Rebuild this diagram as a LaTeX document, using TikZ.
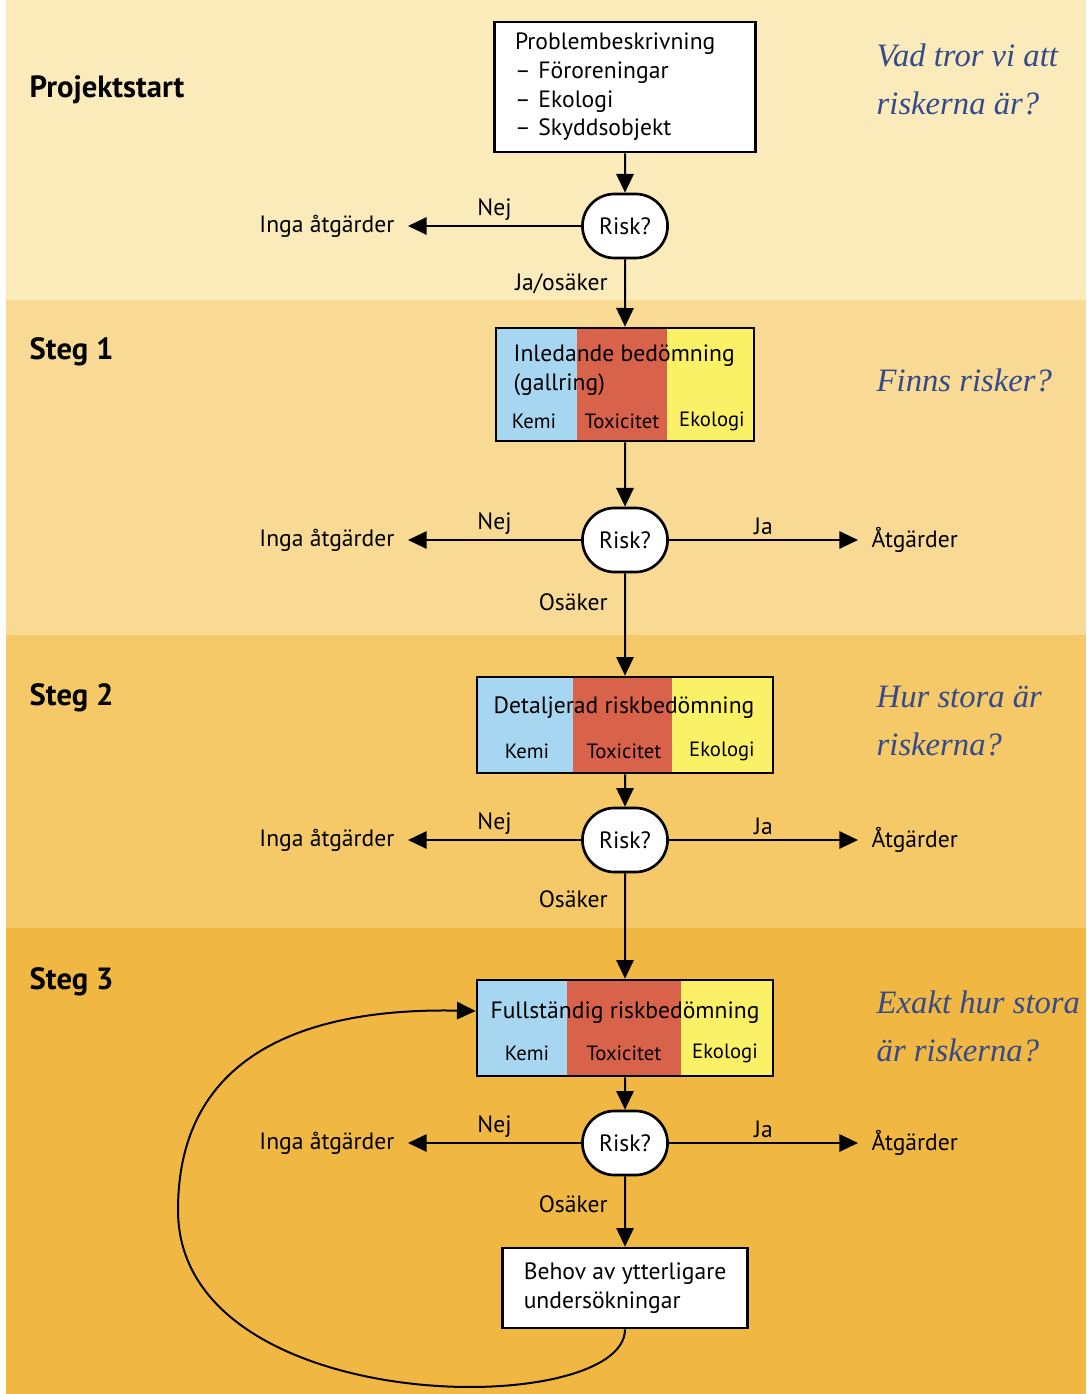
\documentclass[tikz,border=0pt]{standalone}
\usepackage{fontspec}
\setmainfont{PT Sans}
\newfontfamily\handfont{Liberation Serif}
\usetikzlibrary{arrows.meta, shapes.misc}

\definecolor{bandA}{RGB}{251,235,187}
\definecolor{bandB}{RGB}{248,218,149}
\definecolor{bandC}{RGB}{245,200,104}
\definecolor{bandD}{RGB}{240,184,66}
\definecolor{kemiblue}{RGB}{166,214,240}
\definecolor{toxred}{RGB}{216,98,74}
\definecolor{ekoyellow}{RGB}{250,241,102}
\definecolor{handblue}{RGB}{52,74,140}

\tikzset{
  flow/.style={line width=1.5pt, -{Triangle[length=14pt,width=13pt]}},
  txt/.style={font=\fontsize{17.7}{21.5}\selectfont},
  subtxt/.style={font=\fontsize{15.5}{18}\selectfont},
  head/.style={font=\bfseries\fontsize{23}{26}\selectfont, anchor=west},
  hand/.style={font=\handfont\itshape\fontsize{24.5}{36}\selectfont, text=handblue, anchor=west, align=left},
  riskbox/.style={draw, fill=white, rounded rectangle, line width=2pt, minimum width=70.5pt, minimum height=48pt, txt},
  framebox/.style={draw, line width=2pt, inner sep=0pt},
  whitebox/.style={draw, fill=white, line width=2pt, txt, align=left},
  sidelabel/.style={left, xshift=-9pt, txt}
}

\begin{document}
\begin{tikzpicture}[x=0.75pt, y=-0.75pt]
  \useasboundingbox (0,0) rectangle (1086,1394);
  % background bands
  \fill[white] (0,0) rectangle (1086,1394);
  \fill[bandA] (6,0) rectangle (1086,300);
  \fill[bandB] (6,300) rectangle (1086,635);
  \fill[bandC] (6,635) rectangle (1086,928);
  \fill[bandD] (6,928) rectangle (1086,1394);

  % stage headings
  \node[head] (hstart) at (25,90) {Projektstart};
  \node[head] (hsteg1) at (25,352) {Steg 1};
  \node[head] (hsteg2) at (25,698) {Steg 2};
  \node[head] (hsteg3) at (25,982) {Steg 3};

  % questions on the right
  \node[hand] (q0) at (872,79) {Vad tror vi att\\riskerna är?};
  \node[hand] (q1) at (872,380) {Finns risker?};
  \node[hand] (q2) at (872,721) {Hur stora är\\riskerna?};
  \node[hand] (q3) at (872,1026) {Exakt hur stora\\är riskerna?};

  % project start
  \node[whitebox, minimum height=97.5pt, text width=165pt, inner xsep=15.3pt] (prob) at (625,87)
    {Problembeskrivning\\– Föroreningar\\– Ekologi\\– Skyddsobjekt};
  \node[riskbox] (r0) at (625,226) {Risk?};

  % step 1
  \fill[kemiblue] (497,328) rectangle (577,441);
  \fill[toxred] (577,328) rectangle (667,441);
  \fill[ekoyellow] (667,328) rectangle (755,441);
  \node[framebox, minimum width=193.5pt, minimum height=84.75pt] (b1) at (625,384.5) {};
  \node[txt, anchor=west, align=left] (t1) at (509,370) {Inledande bedömning\\(gallring)};
  \node[subtxt] (k1) at (534,421) {Kemi};
  \node[subtxt] (x1) at (622,421) {Toxicitet};
  \node[subtxt] (e1) at (712,421) {Ekologi};
  \node[riskbox] (r1) at (625,540) {Risk?};

  % step 2
  \fill[kemiblue] (476,677) rectangle (573,773);
  \fill[toxred] (573,677) rectangle (672,773);
  \fill[ekoyellow] (672,677) rectangle (772,773);
  \node[framebox, minimum width=222pt, minimum height=72pt] (b2) at (625,725) {};
  \node[txt] (t2) at (624,708) {Detaljerad riskbedömning};
  \node[subtxt] (k2) at (527,751) {Kemi};
  \node[subtxt] (x2) at (624,751) {Toxicitet};
  \node[subtxt] (e2) at (722,751) {Ekologi};
  \node[riskbox] (r2) at (625,840) {Risk?};

  % step 3
  \fill[kemiblue] (477,980) rectangle (567,1076);
  \fill[toxred] (567,980) rectangle (681,1076);
  \fill[ekoyellow] (681,980) rectangle (773,1076);
  \node[framebox, minimum width=222pt, minimum height=72pt] (b3) at (625,1028) {};
  \node[txt] (t3) at (625,1013) {Fullständig riskbedömning};
  \node[subtxt] (k3) at (527,1053) {Kemi};
  \node[subtxt] (x3) at (624,1053) {Toxicitet};
  \node[subtxt] (e3) at (725,1053) {Ekologi};
  \node[riskbox] (r3) at (625,1143) {Risk?};
  \node[whitebox, minimum width=183.75pt, minimum height=60pt] (b4) at (625,1288)
    {Behov av ytterligare\\undersökningar};

  % outcomes
  \node[txt, anchor=east, inner sep=10pt] (n0) at (408,226) {Inga åtgärder};
  \node[txt, anchor=east, inner sep=10pt] (n1) at (408,540) {Inga åtgärder};
  \node[txt, anchor=east, inner sep=10pt] (n2) at (408,840) {Inga åtgärder};
  \node[txt, anchor=east, inner sep=10pt] (n3) at (408,1143) {Inga åtgärder};
  \node[txt, anchor=west, inner sep=10pt] (a1) at (858,540) {Åtgärder};
  \node[txt, anchor=west, inner sep=10pt] (a2) at (858,840) {Åtgärder};
  \node[txt, anchor=west, inner sep=10pt] (a3) at (858,1143) {Åtgärder};

  % main flow
  \draw[flow] (prob) -- (r0);
  \draw[flow] (r0) -- (b1) node[pos=0.37, sidelabel] {Ja/osäker};
  \draw[flow] (b1) -- (r1);
  \draw[flow] (r1) -- (b2) node[pos=0.28, sidelabel] {Osäker};
  \draw[flow] (b2) -- (r2);
  \draw[flow] (r2) -- (b3) node[pos=0.25, sidelabel] {Osäker};
  \draw[flow] (b3) -- (r3);
  \draw[flow] (r3) -- (b4) node[pos=0.4, sidelabel] {Osäker};

  % side branches
  \foreach \i in {0,1,2,3}
    \draw[flow] (r\i.west) -- (n\i.east) node[midway, above, txt] {Nej};
  \foreach \i in {1,2,3}
    \draw[flow] (r\i.east) -- (a\i.west) node[midway, above, txt] {Ja};

  % loop back
  \coordinate (b3in) at ([yshift=12.75pt]b3.west);
  \draw[flow] (b4.south) .. controls (625,1420) and (178,1420) .. (178,1210)
    .. controls (178,1040) and (330,1008) .. (b3in);
\end{tikzpicture}
\end{document}
